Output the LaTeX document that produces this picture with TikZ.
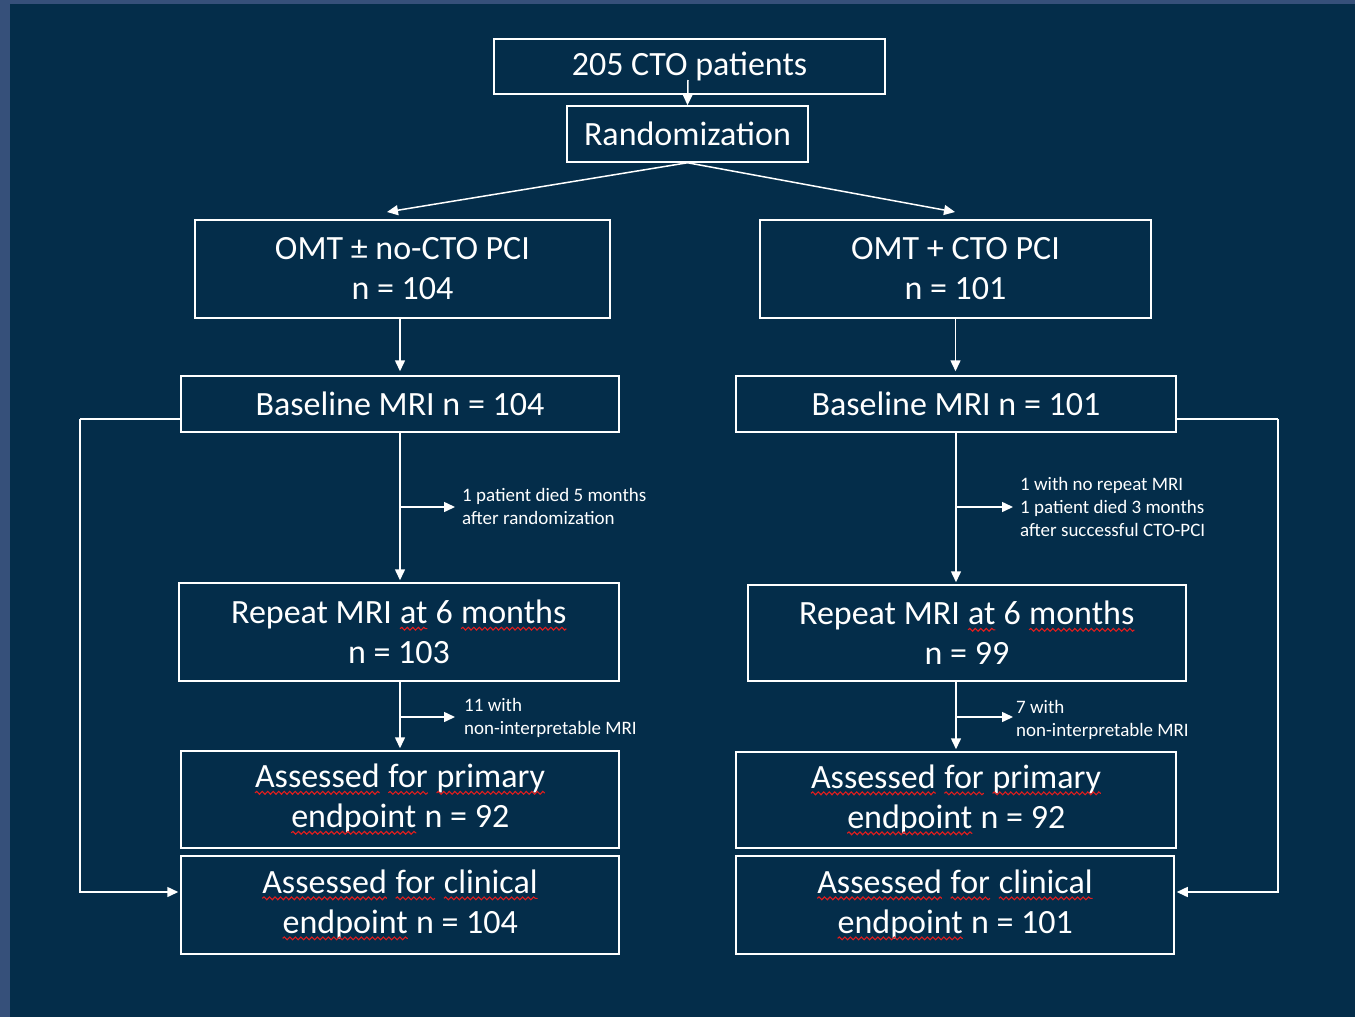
\documentclass[tikz,border=0pt]{standalone}
\usepackage{fontspec}
\setmainfont{Carlito}
\usetikzlibrary{arrows.meta,decorations.pathmorphing}
\definecolor{bg}{RGB}{4,45,74}
\definecolor{strip}{RGB}{54,80,122}
\definecolor{wavered}{RGB}{225,30,30}
\newcommand\redwave[1]{\tikz[baseline=(w.base)]{\node[draw=none,fill=none,inner sep=0pt,outer sep=0pt,minimum width=0pt,minimum height=0pt,anchor=base,align=left](w) at (0,0){#1};
  \draw[wavered,line width=1.1pt,decorate,decoration={snake,amplitude=1.4pt,segment length=5.5pt}] ([yshift=-5pt]w.base west) -- ([yshift=-5pt]w.base east);}}
\tikzset{
  box/.style={draw=white, line width=1.5pt, text=white, align=center, inner sep=0pt,
    font=\fontsize{34}{40}\selectfont},
  arr/.style={color=white, line width=1.5pt, -{Triangle[length=11pt,width=10pt,fill=white]}},
  ln/.style={color=white, line width=1.5pt},
  note/.style={text=white, align=left, anchor=west, inner sep=0pt,
    font=\fontsize{19}{23}\selectfont}
}
\begin{document}
\begin{tikzpicture}[x=1pt,y=-1pt]
\fill[strip] (0,0) rectangle (1355,1017);
\fill[bg] (10,4) rectangle (1355,1017);
\useasboundingbox (0,0) rectangle (1355,1017);

\node[box, minimum width=391pt, minimum height=55pt] (top) at (689.5,66.5) {\raisebox{-2pt}{205 CTO patients}};
\node[box, minimum width=241pt, minimum height=56pt] (rand) at (687.5,134) {Randomization};
\node[box, minimum width=415pt, minimum height=98pt] (omtL) at (402.5,269) {OMT ± no-CTO PCI\\n = 104};
\node[box, minimum width=391pt, minimum height=98pt] (omtR) at (955.5,269) {OMT + CTO PCI\\n = 101};
\node[box, minimum width=438pt, minimum height=56pt] (baseL) at (400,404) {Baseline MRI n = 104};
\node[box, minimum width=440pt, minimum height=56pt] (baseR) at (956,404) {Baseline MRI n = 101};
\node[box, minimum width=440pt, minimum height=98pt] (repL) at (399,632) {Repeat MRI \redwave{at} 6 \redwave{months}\\n = 103};
\node[box, minimum width=438pt, minimum height=96pt] (repR) at (967,633) {Repeat MRI \redwave{at} 6 \redwave{months}\\n = 99};
\node[box, minimum width=438pt, minimum height=97pt] (primL) at (400,799.5) {\redwave{Assessed} \redwave{for} \redwave{primary}\\\redwave{endpoint} n = 92};
\node[box, minimum width=440pt, minimum height=96pt] (primR) at (956,800) {\redwave{Assessed} \redwave{for} \redwave{primary}\\\redwave{endpoint} n = 92};
\node[box, minimum width=438pt, minimum height=98pt] (clinL) at (400,905) {\redwave{Assessed} \redwave{for} \redwave{clinical}\\\redwave{endpoint} n = 104};
\node[box, minimum width=438pt, minimum height=98pt] (clinR) at (955,905) {\redwave{Assessed} \redwave{for} \redwave{clinical}\\\redwave{endpoint} n = 101};

\node[note] (n1) at (462,506.5) {1 patient died 5 months\\after randomization};
\node[note] (n2) at (1020,507) {1 with no repeat MRI\\1 patient died 3 months\\after successful CTO-PCI};
\node[note] (n3) at (464,717.5) {11 with\\non-interpretable MRI};
\node[note] (n4) at (1016,719.5) {7 with\\non-interpretable MRI};

% top to randomization
\coordinate (t1) at (688,80);
\draw[arr] (t1) -- (rand.north);
% split
\coordinate (sL) at (387,212);
\coordinate (sR) at (955,212);
\draw[arr] (rand.south) -- (sL);
\draw[arr] (rand.south) -- (sR);
% omt to baseline
\draw[arr, shorten >=4pt] (baseL.north |- omtL.south) -- (baseL.north);
\draw[arr, shorten >=4pt] (omtR.south) -- (omtR.south |- baseR.north);
% baseline to repeat
\draw[arr, shorten >=2pt] (baseL.south) -- (baseL.south |- repL.north);
\draw[arr, shorten >=2pt] (baseR.south) -- (baseR.south |- repR.north);
% side branches
\coordinate (b1) at (400,507);
\coordinate (b2) at (956,507);
\draw[arr] (b1) -- ([xshift=-7pt]n1.west |- b1);
\draw[arr] (b2) -- ([xshift=-7pt]n2.west |- b2);
% repeat to primary
\draw[arr, shorten >=2pt] (baseL.south |- repL.south) -- (baseL.south |- primL.north);
\draw[arr, shorten >=2pt] (baseR.south |- repR.south) -- (baseR.south |- primR.north);
\coordinate (b3) at (400,717);
\coordinate (b4) at (956,717);
\draw[arr] (b3) -- ([xshift=-9pt]n3.west |- b3);
\draw[arr] (b4) -- ([xshift=-3pt]n4.west |- b4);
% bypass lines
\coordinate (cL) at (80,419);
\coordinate (cR) at (1278,419);
\draw[ln] ([yshift=-15pt]baseL.west) -- (cL);
\draw[arr, shorten >=2pt] (cL) |- ([yshift=13pt]clinL.west);
\draw[ln] ([yshift=-15pt]baseR.east) -- (cR);
\draw[arr, shorten >=2pt] (cR) |- ([yshift=13pt]clinR.east);
\end{tikzpicture}
\end{document}
